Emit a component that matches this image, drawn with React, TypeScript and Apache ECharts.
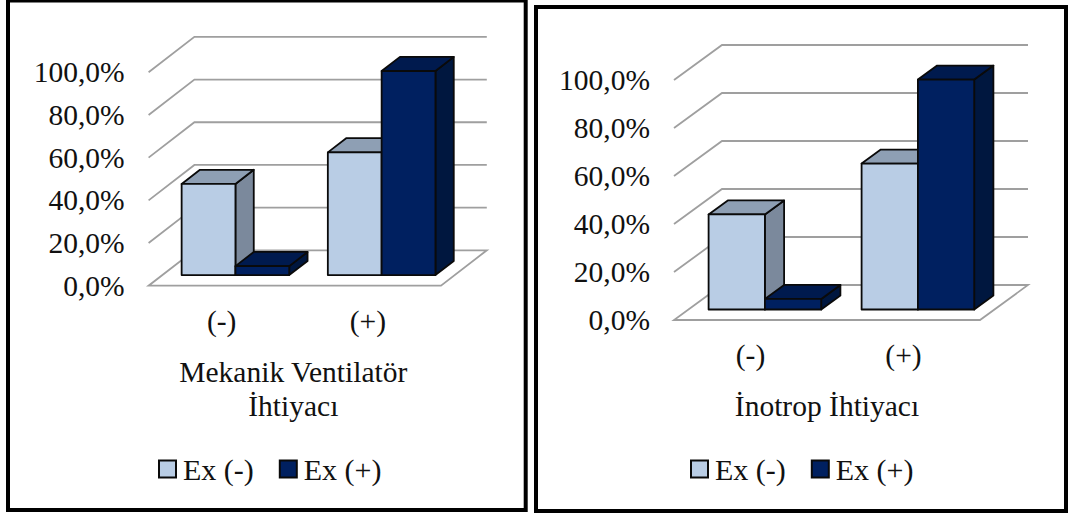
import React, { useEffect, useRef } from "react";
import * as echarts from "echarts";

const categories = ["(-)", "(+)"];
const seriesNames = ["Ex (-)", "Ex (+)"];
const yTicks = [0, 20, 40, 60, 80, 100];
const ventExMinus = [42.7, 57.5];
const ventExPlus = [4.2, 95.6];
const inoExMinus = [39.6, 60.8];
const inoExPlus = [4.4, 95.8];

const FONT = "'Liberation Serif', 'Times New Roman', serif";
const FONT_SIZE = 29.5;
const TEXT = "#111111";
const GRID_LINE = "#9f9f9f";
const LIGHT = { front: "#b9cde5", top: "#8e9fb4", side: "#7b899c" };
const DARK = { front: "#002060", top: "#001a4e", side: "#00173f" };
const BAR_RATIO = 0.368;

function wallsRenderer(depth: number[]) {
  return (params: any, api: any) => {
    const tick = api.value(0);
    const cs = params.coordSys;
    const y = api.coord([0, tick])[1];
    const [dx, dy] = depth;
    const style = { stroke: GRID_LINE, lineWidth: 1.8, fill: "none" };
    if (tick === 0) {
      return {
        type: "polygon",
        shape: {
          points: [
            [cs.x, y],
            [cs.x + cs.width, y],
            [cs.x + cs.width + dx, y + dy],
            [cs.x + dx, y + dy],
          ],
        },
        style: { ...style, fill: "#ffffff" },
        silent: true,
      };
    }
    return {
      type: "polyline",
      shape: {
        points: [
          [cs.x, y],
          [cs.x + dx, y + dy],
          [cs.x + cs.width + dx, y + dy],
        ],
      },
      style,
      silent: true,
    };
  };
}

function barRenderer(depth: number[], side: number, colors: any) {
  return (_params: any, api: any) => {
    const top = api.coord([api.value(0), api.value(1)]);
    const base = api.coord([api.value(0), 0]);
    const w = api.size([1, 0])[0] * BAR_RATIO;
    const ox = depth[0] * 0.3;
    const oy = depth[1] * 0.3;
    const bx = depth[0] * 0.4;
    const by = depth[1] * 0.4;
    const x0 = top[0] + ox + (side < 0 ? -w : 0);
    const x1 = x0 + w;
    const y0 = base[1] + oy;
    const y1 = top[1] + oy;
    const stroke = { stroke: "#0a0a0a", lineWidth: 1.8, lineJoin: "round" };
    return {
      type: "group",
      silent: true,
      children: [
        {
          type: "polygon",
          shape: { points: [[x1, y1], [x1 + bx, y1 + by], [x1 + bx, y0 + by], [x1, y0]] },
          style: { ...stroke, fill: colors.side },
        },
        {
          type: "polygon",
          shape: { points: [[x0, y1], [x0 + bx, y1 + by], [x1 + bx, y1 + by], [x1, y1]] },
          style: { ...stroke, fill: colors.top },
        },
        {
          type: "rect",
          shape: { x: x0, y: y1, width: w, height: y0 - y1 },
          style: { ...stroke, fill: colors.front },
        },
      ],
    };
  };
}

function axes(index: number, name: string, nameGap: number, namePadRight: number) {
  return {
    x: {
      type: "category",
      gridIndex: index,
      data: categories,
      name,
      nameLocation: "middle",
      nameGap,
      nameTextStyle: {
        fontFamily: FONT,
        fontSize: FONT_SIZE,
        color: TEXT,
        lineHeight: 34,
        padding: [0, namePadRight, 0, 0],
      },
      axisLine: { show: false },
      axisTick: { show: false },
      axisLabel: { fontFamily: FONT, fontSize: FONT_SIZE, color: TEXT, margin: 20 },
    },
    y: {
      type: "value",
      gridIndex: index,
      min: 0,
      max: 100,
      interval: 20,
      axisLine: { show: false },
      axisTick: { show: false },
      splitLine: { show: false },
      axisLabel: {
        fontFamily: FONT,
        fontSize: FONT_SIZE,
        color: TEXT,
        margin: 24,
        formatter: (v: number) => `${v.toFixed(1).replace(".", ",")}%`,
      },
    },
  };
}

function chartSeries(index: number, depth: number[], minus: number[], plus: number[]) {
  const common = { type: "custom", xAxisIndex: index, yAxisIndex: index, encode: { x: 0, y: 1 } };
  return [
    {
      ...common,
      name: "walls",
      z: 1,
      encode: { y: 0 },
      renderItem: wallsRenderer(depth),
      data: yTicks.map((t) => [t]),
    },
    {
      ...common,
      name: seriesNames[0],
      z: 2,
      itemStyle: { color: LIGHT.front },
      renderItem: barRenderer(depth, -1, LIGHT),
      data: minus.map((v, i) => [i, v]),
    },
    {
      ...common,
      name: seriesNames[1],
      z: 3,
      itemStyle: { color: DARK.front },
      renderItem: barRenderer(depth, 1, DARK),
      data: plus.map((v, i) => [i, v]),
    },
  ];
}

function legendAt(left: number, top: number) {
  return {
    left,
    top,
    orient: "horizontal",
    data: seriesNames,
    icon: "rect",
    itemWidth: 17,
    itemHeight: 17,
    itemGap: 25,
    selectedMode: false,
    itemStyle: { borderColor: "#0a0a0a", borderWidth: 2 },
    textStyle: { fontFamily: FONT, fontSize: 30, color: TEXT, padding: [0, 0, 0, 2] },
  };
}

function frame(x: number, y: number, width: number, height: number) {
  return {
    type: "rect",
    shape: { x, y, width, height },
    style: { fill: "none", stroke: "#000000", lineWidth: 4 },
    silent: true,
  };
}

export default function App() {
  const ref = useRef<HTMLDivElement>(null);
  useEffect(() => {
    document.body.style.margin = "0";
    const chart = echarts.init(ref.current!, undefined, { renderer: "svg" });
    const a0 = axes(0, "Mekanik Ventilatör\nİhtiyacı", 69, 3);
    const a1 = axes(1, "İnotrop İhtiyacı", 69, 0);
    chart.setOption({
      animation: false,
      backgroundColor: "#ffffff",
      grid: [
        { left: 148.6, top: 72.3, width: 292.4, height: 213.4 },
        { left: 674, top: 80, width: 306, height: 240 },
      ],
      xAxis: [a0.x, a1.x],
      yAxis: [a0.y, a1.y],
      legend: [legendAt(153, 449), legendAt(685, 449)],
      graphic: [frame(8, 0.5, 517.7, 509.5), frame(536, 7, 530, 504)],
      series: [
        ...chartSeries(0, [45.8, -35.4], ventExMinus, ventExPlus),
        ...chartSeries(1, [48, -35], inoExMinus, inoExPlus),
      ],
    });
    return () => chart.dispose();
  }, []);
  return <div ref={ref} style={{ position: "fixed", left: 0, top: 0, width: 1068, height: 514 }} />;
}
